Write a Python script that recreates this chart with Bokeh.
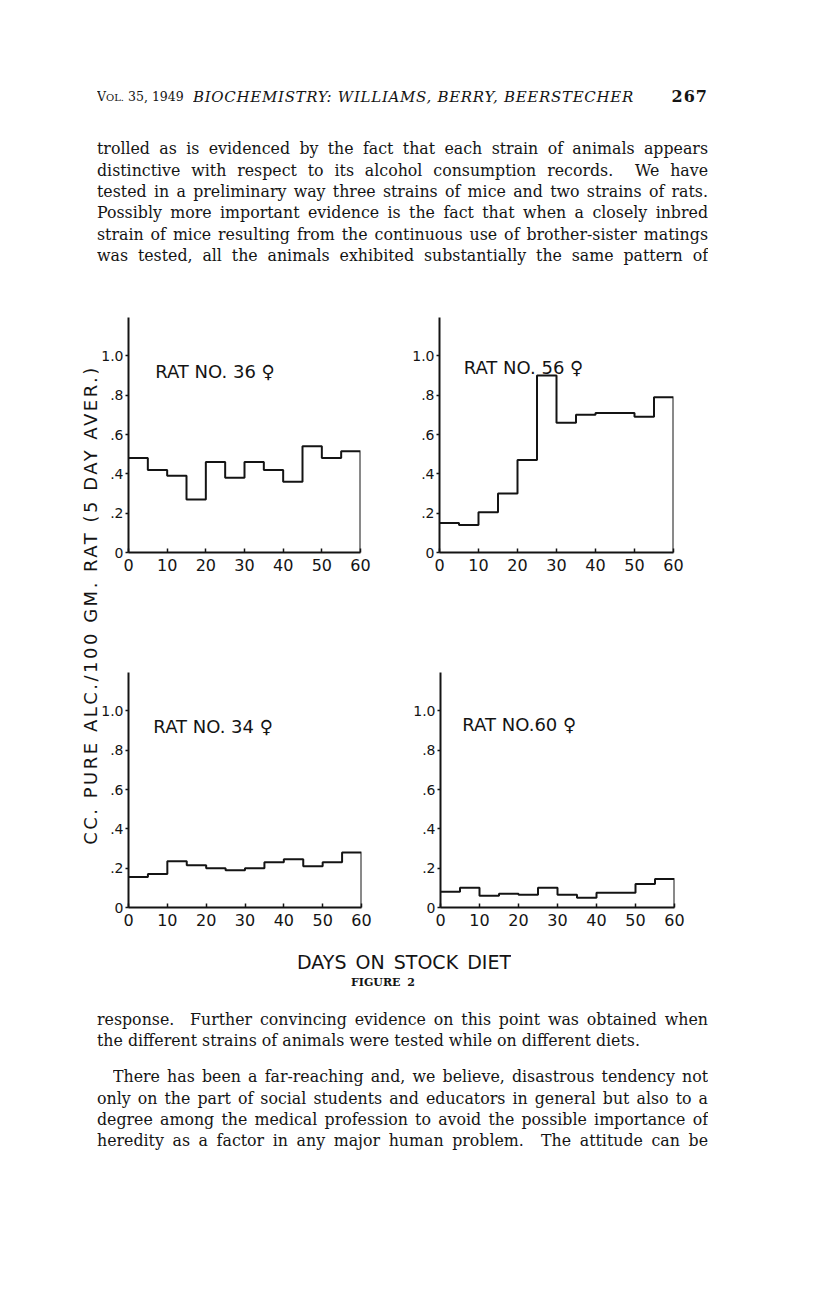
import math
from bokeh.plotting import figure
from bokeh.layouts import column, row
from bokeh.models import Div, Range1d, FixedTicker, Label
from bokeh.embed import file_html
from bokeh.resources import INLINE

# ---------------- data ----------------
days = [0, 5, 10, 15, 20, 25, 30, 35, 40, 45, 50, 55, 60]
rat36 = [0.48, 0.42, 0.39, 0.27, 0.46, 0.38, 0.46, 0.42, 0.36, 0.54, 0.48, 0.515]
rat56 = [0.15, 0.14, 0.205, 0.30, 0.47, 0.90, 0.66, 0.70, 0.71, 0.71, 0.69, 0.79]
rat34 = [0.155, 0.17, 0.235, 0.215, 0.20, 0.19, 0.20, 0.23, 0.245, 0.21, 0.23, 0.28]
rat60 = [0.08, 0.10, 0.06, 0.07, 0.065, 0.10, 0.065, 0.05, 0.075, 0.075, 0.12, 0.145]
x_ticks = [0, 10, 20, 30, 40, 50, 60]
y_ticks = [0, 0.2, 0.4, 0.6, 0.8, 1.0]
y_tick_labels = ["0", ".2", ".4", ".6", ".8", "1.0"]
panel_titles = ["RAT NO. 36 \u2640", "RAT NO. 56 \u2640", "RAT NO. 34 \u2640", "RAT NO.60 \u2640"]
y_label = "CC. PURE ALC./100 GM. RAT (5 DAY AVER.)"
x_label = "DAYS ON STOCK DIET"
caption = "FIGURE 2"

header_left = "V<span style='font-size:10px'>OL.</span> 35, 1949"
header_mid = "BIOCHEMISTRY: WILLIAMS, BERRY, BEERSTECHER"
header_page = "267"
text_top = [
    "trolled as is evidenced by the fact that each strain of animals appears",
    "distinctive with respect to its alcohol consumption records.&nbsp; We have",
    "tested in a preliminary way three strains of mice and two strains of rats.",
    "Possibly more important evidence is the fact that when a closely inbred",
    "strain of mice resulting from the continuous use of brother-sister matings",
    "was tested, all the animals exhibited substantially the same pattern of",
]
text_bottom = [
    "response.&nbsp; Further convincing evidence on this point was obtained when",
    "the different strains of animals were tested while on different diets.",
    "There has been a far-reaching and, we believe, disastrous tendency not",
    "only on the part of social students and educators in general but also to a",
    "degree among the medical profession to avoid the possible importance of",
    "heredity as a factor in any major human problem.&nbsp; The attitude can be",
]

INK = "#141414"
SANS = "DejaVu Sans"
SERIF = "DejaVu Serif"


def panel(vals, title, w, h, bl, br, bt, bb, tx, ty):
    p = figure(width=w, height=h, x_range=Range1d(0, 60), y_range=Range1d(0, 1.195),
               output_backend="svg", toolbar_location=None,
               min_border_left=bl, min_border_right=br,
               min_border_top=bt, min_border_bottom=bb)
    p.outline_line_color = None
    p.grid.visible = False
    p.step(x=days, y=vals + [0], mode="after", line_color=INK, line_width=2)

    xa = p.xaxis[0]
    xa.ticker = FixedTicker(ticks=x_ticks)
    xa.major_tick_in = 4
    xa.major_tick_out = 0
    xa.minor_tick_line_color = None
    xa.axis_line_width = 2
    xa.axis_line_color = INK
    xa.major_tick_line_color = INK
    xa.major_tick_line_width = 1.5
    xa.major_label_text_font = SANS
    xa.major_label_text_font_size = "16px"
    xa.major_label_text_color = INK
    xa.major_label_standoff = 6

    ya = p.yaxis[0]
    ya.ticker = FixedTicker(ticks=y_ticks)
    ya.major_label_overrides = {t: l for t, l in zip(y_ticks, y_tick_labels)}
    ya.major_tick_in = 0
    ya.major_tick_out = 3
    ya.minor_tick_line_color = None
    ya.axis_line_width = 2
    ya.axis_line_color = INK
    ya.major_tick_line_color = INK
    ya.major_tick_line_width = 1.5
    ya.major_label_text_font = SANS
    ya.major_label_text_font_size = "14px"
    ya.major_label_text_color = INK
    ya.major_label_standoff = 2

    p.add_layout(Label(x=tx, y=ty, text=title, text_font=SANS, text_font_size="18px",
                       text_color=INK, text_baseline="middle", text_align="left"))
    return p


# page geometry: top block 0..290, charts 290..942, bottom block 942..1304
f1 = panel(rat36, panel_titles[0], 292, 302, 28, 30, 27, 40, 6.9, 0.92)
f2 = panel(rat56, panel_titles[1], 320, 302, 49, 37, 27, 40, 6.2, 0.94)
f3 = panel(rat34, panel_titles[2], 292, 350, 29, 29, 80, 35, 6.4, 0.92)
f4 = panel(rat60, panel_titles[3], 320, 350, 50, 36, 80, 35, 5.6, 0.93)

# vertical label (page x 0..98, y 290..942)
ycx, ycy = 91, 315
ylab_html = (
    "<div style=\"position:relative;width:98px;height:652px;overflow:visible;\">"
    f"<div style=\"position:absolute;left:{ycx - 300}px;top:{ycy - 10}px;width:600px;"
    "height:20px;line-height:20px;text-align:center;white-space:nowrap;"
    f"transform:rotate(-90deg);transform-origin:50% 50%;font-family:'{SANS}';"
    f"font-size:18px;letter-spacing:2.5px;color:{INK};\">{y_label}</div></div>"
)
yl = Div(text=ylab_html, width=98, height=652, margin=0)


def line_div(txt, left, yc, width, align="justify", size=15.8, extra=""):
    return (f"<div style=\"position:absolute;left:{left}px;top:{yc - 11}px;width:{width}px;"
            f"height:22px;line-height:22px;overflow:hidden;text-align:{align};"
            f"text-align-last:{align};font-size:{size}px;{extra}\">{txt}</div>")


# ---- top text block (page y 0..290) ----
top_parts = []
top_parts.append(line_div(header_left, 97, 97, 92, align="left", size=12.5))
top_parts.append(line_div(header_mid, 193, 97, 450, align="left", size=15,
                          extra="font-style:italic;letter-spacing:0.7px;"))
top_parts.append(line_div(header_page, 640, 97, 68, align="right", size=16,
                          extra="font-weight:bold;letter-spacing:1px;"))
for i, t in enumerate(text_top):
    yc = [149, 171, 192, 213, 235, 256][i]
    top_parts.append(line_div(t, 97, yc, 611))
top_html = ("<div style=\"position:relative;width:800px;height:290px;"
            f"font-family:'{SERIF}';color:{INK};\">" + "".join(top_parts) + "</div>")
top_div = Div(text=top_html, width=800, height=290, margin=0)

# ---- bottom block (page y 942..1304) ----
bot_parts = []
bot_parts.append(line_div(x_label, 297, 20, 214, align="justify", size=19,
                          extra=f"font-family:'{SANS}';"))
bot_parts.append(line_div(caption, 351, 41, 64, align="justify", size=11,
                          extra="font-weight:bold;"))
ys = [78, 99, 135, 157, 178, 199]
for i, t in enumerate(text_bottom):
    if i == 1:
        bot_parts.append(line_div(t, 97, ys[i], 611, align="left"))
    elif i == 2:
        bot_parts.append(line_div(t, 113, ys[i], 595))
    else:
        bot_parts.append(line_div(t, 97, ys[i], 611))
bot_html = ("<div style=\"position:relative;width:800px;height:362px;"
            f"font-family:'{SERIF}';color:{INK};\">" + "".join(bot_parts) + "</div>")
bot_div = Div(text=bot_html, width=800, height=362, margin=0)

grid = column(row(f1, f2), row(f3, f4))
layout = column(top_div, row(yl, grid), bot_div)

open("out.html", "w").write(file_html(layout, INLINE))
